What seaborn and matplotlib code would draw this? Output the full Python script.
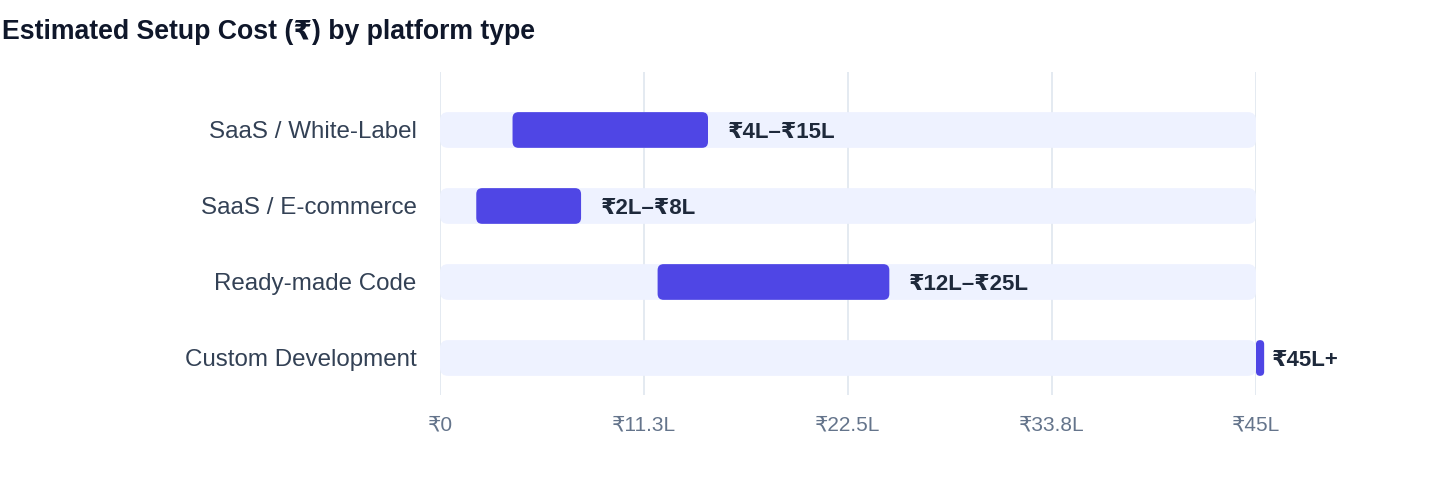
import matplotlib
matplotlib.use("Agg")
import matplotlib.pyplot as plt
from matplotlib.patches import FancyBboxPatch
import numpy as np
import pandas as pd
import seaborn as sns


# data (in lakh rupees)
platforms = ["SaaS / White-Label", "SaaS / E-commerce", "Ready-made Code", "Custom Development"]
cost_low = [4, 2, 12, 45]
cost_high = [15, 8, 25, 45]
range_labels = ["₹4L–₹15L", "₹2L–₹8L", "₹12L–₹25L", "₹45L+"]
axis_max = 45
tick_values = [0, 11.25, 22.5, 33.75, 45]
tick_labels = ["₹0", "₹11.3L", "₹22.5L", "₹33.8L", "₹45L"]

BAR = "#4f46e5"
TRACK = "#eef2ff"
GRID = "#e2e8f0"
FONTS = ["Liberation Sans", "DejaVu Sans"]


def round_bars(ax, patches, lows, widths, color, radius_px, px_per_x, px_per_y):
    # swap seaborn's square bars for rounded ones
    aspect = px_per_x / px_per_y
    for p, lo, w in zip(patches, lows, widths):
        y, h = p.get_y(), p.get_height()
        r = min(radius_px / px_per_x, w / 2)
        fb = FancyBboxPatch((lo, y), w, h,
                            boxstyle=f"round,pad=0,rounding_size={r}",
                            mutation_aspect=aspect, fc=color, ec="none",
                            zorder=p.get_zorder(), clip_on=False)
        p.remove()
        ax.add_patch(fb)


def main():
    sns.set_style("white")
    plt.rcParams["font.family"] = FONTS

    px_per_x = 816 / axis_max
    px_per_y = 76

    df = pd.DataFrame({"platform": platforms, "low": cost_low, "high": cost_high})
    df["track"] = axis_max
    # trim a few px off the end; tiny minimum width so a single-value range still shows
    df["span"] = np.maximum(df["high"] - df["low"] - 4 / px_per_x, 0.45)

    fig = plt.figure(figsize=(14.4, 4.84), dpi=100)
    ax = fig.add_axes([440 / 1440, 1 - 395 / 484, 816 / 1440, 323 / 484])

    sns.barplot(data=df, x="track", y="platform", color=TRACK, width=0.47,
                ax=ax, zorder=2, saturation=1)
    n = len(df)
    track_patches = list(ax.patches[:n])
    sns.barplot(data=df, x="span", y="platform", color=BAR, width=0.47,
                ax=ax, zorder=3, saturation=1)
    range_patches = list(ax.patches[n:2 * n])

    ax.set_xlim(0, axis_max)
    ax.set_ylim(3.487, -0.763)

    round_bars(ax, track_patches, [0] * n, df["track"], TRACK, 8, px_per_x, px_per_y)
    round_bars(ax, range_patches, df["low"], df["span"], BAR, 6, px_per_x, px_per_y)

    for i, row in df.iterrows():
        end = row["low"] + row["span"]
        ax.annotate(range_labels[i], (end, i), xytext=(8 if row["span"] < 1 else 20, 0),
                    textcoords="offset pixels", va="center_baseline", ha="left",
                    fontsize=16, fontweight="bold", color="#1e293b",
                    zorder=5, annotation_clip=False)

    ax.set_xticks(tick_values)
    ax.set_xticklabels(tick_labels)
    ax.tick_params(axis="x", length=0, pad=15, labelsize=15, labelcolor="#64748b")
    ax.tick_params(axis="y", length=0, pad=17, labelsize=17.4, labelcolor="#334155")
    ax.set_xlabel("")
    ax.set_ylabel("")
    ax.xaxis.grid(True, color=GRID, linewidth=1.3, zorder=0)
    ax.yaxis.grid(False)
    ax.set_axisbelow(True)
    for s in ax.spines.values():
        s.set_visible(False)

    fig.text(2 / 1440, 1 - 32 / 484, "Estimated Setup Cost (₹) by platform type",
             ha="left", va="center", fontsize=19.2, fontweight="bold", color="#0f172a")

    fig.savefig("out.png", dpi=100, facecolor="white")


main()
